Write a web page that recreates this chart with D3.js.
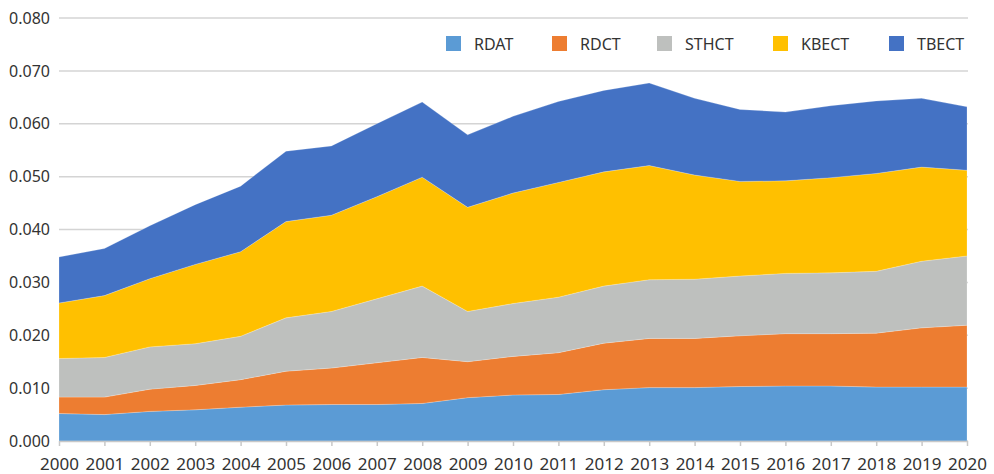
<!DOCTYPE html>
<html>
<head>
<meta charset="utf-8">
<script src="https://cdn.jsdelivr.net/npm/d3@7"></script>
<style>
  body { margin: 0; background: #fff; }
  text { font-family: "Noto Sans", "Open Sans", sans-serif; fill: #333; }
</style>
</head>
<body>
<div id="chart"></div>
<script>
var years = d3.range(2000, 2021);
var seriesNames = ["RDAT", "RDCT", "STHCT", "KBECT", "TBECT"];
var colors = ["#5b9bd5", "#ed7d31", "#bec0be", "#ffc000", "#4472c4"];

var RDAT  = [0.0052, 0.0050, 0.0056, 0.0059, 0.0064, 0.0068, 0.0069, 0.0069, 0.0071, 0.0082, 0.0087,
             0.0088, 0.0097, 0.0101, 0.0101, 0.0103, 0.0104, 0.0104, 0.0102, 0.0102, 0.0102];
var RDCT  = [0.0031, 0.0033, 0.0042, 0.0046, 0.0052, 0.0064, 0.0069, 0.0079, 0.0087, 0.0068, 0.0073,
             0.0079, 0.0088, 0.0093, 0.0093, 0.0096, 0.0099, 0.0099, 0.0102, 0.0112, 0.0117];
var STHCT = [0.0073, 0.0075, 0.0080, 0.0079, 0.0082, 0.0101, 0.0107, 0.0121, 0.0135, 0.0095, 0.0100,
             0.0105, 0.0108, 0.0111, 0.0112, 0.0113, 0.0114, 0.0115, 0.0117, 0.0126, 0.0131];
var KBECT = [0.0105, 0.0117, 0.0129, 0.0150, 0.0160, 0.0182, 0.0182, 0.0193, 0.0206, 0.0197, 0.0209,
             0.0217, 0.0216, 0.0216, 0.0197, 0.0179, 0.0175, 0.0180, 0.0185, 0.0178, 0.0162];
var TBECT = [0.0087, 0.0089, 0.0100, 0.0113, 0.0124, 0.0133, 0.0131, 0.0138, 0.0142, 0.0137, 0.0145,
             0.0153, 0.0154, 0.0156, 0.0145, 0.0136, 0.0130, 0.0136, 0.0137, 0.0130, 0.0120];
var yTicks = [0, 0.01, 0.02, 0.03, 0.04, 0.05, 0.06, 0.07, 0.08];

var width = 994, height = 474,
    plotLeft = 59, plotRight = 967, plotTop = 18, plotBottom = 441;

var rows = years.map(function (yr, i) {
    return { year: yr, RDAT: RDAT[i], RDCT: RDCT[i], STHCT: STHCT[i], KBECT: KBECT[i], TBECT: TBECT[i] };
});

var svg = d3.select("#chart").append("svg")
    .attr("width", width)
    .attr("height", height);

var x = d3.scaleLinear().domain([2000, 2020]).range([plotLeft, plotRight]);
var y = d3.scaleLinear().domain([0, 0.08]).range([plotBottom, plotTop]);

// gridlines
svg.append("g")
    .selectAll("line")
    .data(yTicks)
    .enter()
    .append("line")
    .attr("x1", plotLeft)
    .attr("x2", plotRight + 1)
    .attr("y1", function (d) { return y(d); })
    .attr("y2", function (d) { return y(d); })
    .style("stroke", "#d4d4d4")
    .style("stroke-width", 1.5);

var stack = d3.stack().keys(seriesNames);
var area = d3.area()
    .x(function (d) { return x(d.data.year); })
    .y0(function (d) { return y(d[0]); })
    .y1(function (d) { return y(d[1]); });

svg.append("g")
    .selectAll("path")
    .data(stack(rows))
    .enter()
    .append("path")
    .attr("d", area)
    .style("fill", function (d, i) { return colors[i]; })
    .style("stroke", "rgba(255,255,255,0.35)")
    .style("stroke-width", 0.6);

// y axis labels
var yAxis = svg.append("g")
    .attr("transform", "translate(" + plotLeft + ",0)")
    .call(d3.axisLeft(y).tickValues(yTicks).tickFormat(d3.format(".3f")).tickSize(0).tickPadding(9));
yAxis.select(".domain").remove();
yAxis.selectAll("text").style("font-size", "16px").style("fill", "#333");

// x axis
var xAxis = svg.append("g")
    .attr("transform", "translate(0," + plotBottom + ")")
    .call(d3.axisBottom(x).tickValues(years).tickFormat(d3.format("d")).tickSizeInner(5).tickSizeOuter(0).tickPadding(12));
xAxis.select(".domain").style("stroke", "#c8c8c8").style("stroke-width", 1.5);
xAxis.selectAll(".tick line").style("stroke", "#c8c8c8").style("stroke-width", 1.5);
xAxis.selectAll("text").style("font-size", "17px").style("fill", "#333");

// legend
var legendX = [446, 552, 657, 773, 889];
var legend = svg.append("g")
    .selectAll("g")
    .data(seriesNames)
    .enter()
    .append("g")
    .attr("transform", function (d, i) { return "translate(" + legendX[i] + ",36)"; });
legend.append("rect")
    .attr("width", 15)
    .attr("height", 15)
    .style("fill", function (d, i) { return colors[i]; });
legend.append("text")
    .attr("x", 28)
    .attr("y", 8)
    .attr("dy", "0.35em")
    .style("font-size", "16px")
    .text(function (d) { return d; });
</script>
</body>
</html>
